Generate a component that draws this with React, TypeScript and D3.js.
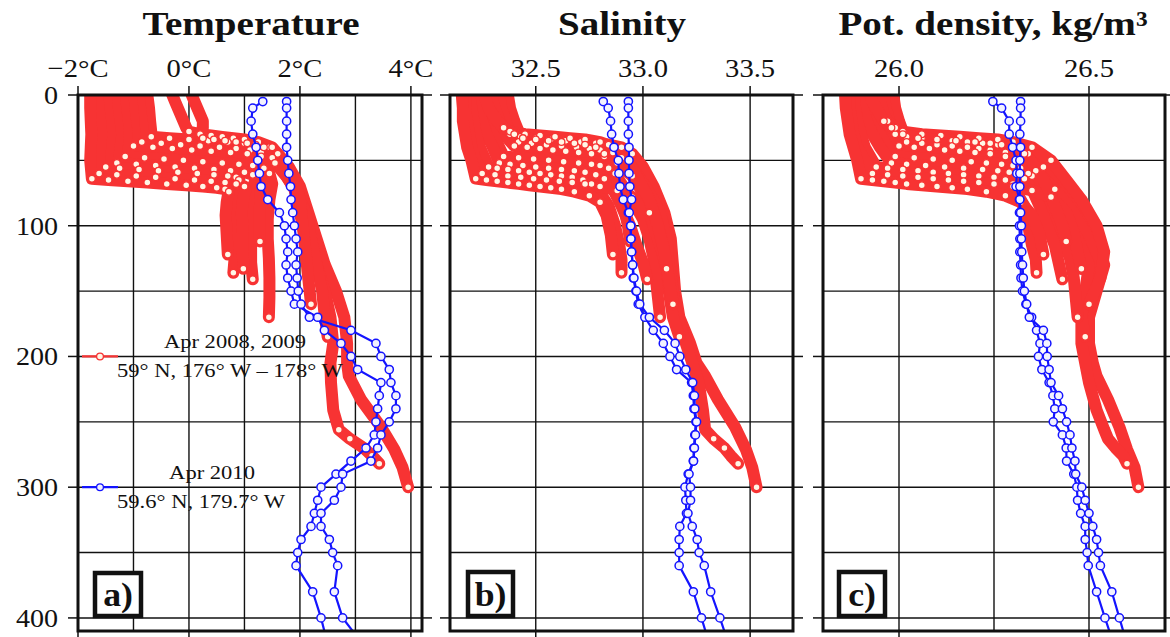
import React from "react";
import * as d3 from "d3";

// ---- April 2008 / 2009 casts (red): depth (m) per cast and the three measured profiles ----
const castDepths: number[][] = [
  [0, 10, 20, 28, 32, 33, 34, 35, 36, 37, 38, 40, 45, 55, 70, 90, 110, 130, 150, 170, 190, 205, 215, 233, 254, 271, 285, 300],
  [0, 10, 20, 30, 36, 37, 38, 39, 40, 41, 42, 44, 48, 58, 72, 90, 110, 130, 150, 170, 190, 205, 220, 241, 256, 263, 270, 276, 282],
  [0, 10, 20, 30, 39, 40, 41, 42, 43, 44, 45, 47, 52, 62, 75, 90, 110, 130, 150, 170, 185],
  [0, 10, 20, 30, 40, 47, 48, 49, 50, 51, 52, 53, 54, 56, 60, 68, 80, 95, 110, 125, 140, 155, 170],
  [0, 10, 20, 30, 40, 52, 53, 54, 55, 56, 57, 58, 59, 61, 64, 72, 85, 100, 115, 128, 141],
  [0, 10, 20, 30, 40, 55, 56, 57, 58, 59, 60, 61, 62, 63, 65, 68, 75, 85, 100, 115, 126, 136],
  [0, 10, 20, 30, 40, 50, 60, 61, 62, 63, 64, 65, 66, 67, 68, 70, 73, 78, 90, 105, 120, 133],
  [0, 10, 20, 30, 40, 50, 64, 65, 66, 67, 68, 69, 70, 71, 72, 74, 77, 82, 92, 107, 122],
  [0, 5, 10, 15, 20, 25, 28, 30, 31, 32, 33, 34, 36, 40, 50, 65, 80, 100, 120, 140, 160],
  [0, 5, 10, 15, 20, 25, 30, 33, 34, 35, 36, 37, 38, 40, 45, 55, 70, 85, 100, 112],
];

const castTemperature: number[][] = [
  [-0.75, -0.72, -0.7, -0.68, -0.68, -0.35, 0.0, 0.35, 0.7, 1.0, 1.25, 1.45, 1.6, 1.8, 2.0, 2.15, 2.3, 2.45, 2.65, 2.8, 2.85, 2.85, 2.88, 3.1, 3.46, 3.7, 3.85, 3.95],
  [-0.9, -0.88, -0.85, -0.82, -0.85, -0.5, -0.15, 0.2, 0.55, 0.85, 1.1, 1.3, 1.5, 1.7, 1.9, 2.0, 2.1, 2.3, 2.45, 2.55, 2.6, 2.55, 2.56, 2.6, 2.7, 2.9, 3.15, 3.3, 3.43],
  [-1.05, -1.02, -1.0, -0.98, -1.0, -0.65, -0.3, 0.05, 0.4, 0.75, 1.05, 1.3, 1.55, 1.75, 1.95, 2.1, 2.2, 2.3, 2.4, 2.45, 2.5],
  [-1.2, -1.18, -1.15, -1.12, -1.15, -1.15, -0.8, -0.45, -0.1, 0.25, 0.6, 0.9, 1.15, 1.35, 1.45, 1.5, 1.45, 1.42, 1.42, 1.44, 1.45, 1.45, 1.44],
  [-1.35, -1.33, -1.3, -1.28, -1.3, -1.3, -0.95, -0.6, -0.25, 0.1, 0.45, 0.75, 1.0, 1.15, 1.2, 1.15, 1.1, 1.1, 1.12, 1.12, 1.15],
  [-1.5, -1.48, -1.45, -1.42, -1.45, -1.5, -1.25, -0.9, -0.55, -0.2, 0.15, 0.45, 0.7, 0.85, 0.9, 0.85, 0.8, 0.78, 0.8, 0.82, 0.82, 0.8],
  [-1.65, -1.63, -1.6, -1.58, -1.6, -1.62, -1.62, -1.3, -0.95, -0.6, -0.25, 0.1, 0.4, 0.65, 0.85, 1.0, 1.02, 0.98, 0.95, 0.97, 0.97, 0.98],
  [-1.78, -1.78, -1.77, -1.76, -1.77, -1.78, -1.75, -1.45, -1.1, -0.75, -0.4, -0.05, 0.25, 0.5, 0.65, 0.72, 0.7, 0.68, 0.66, 0.68, 0.7],
  [-0.3, -0.25, -0.2, -0.15, -0.1, -0.05, 0.0, 0.2, 0.4, 0.6, 0.8, 1.0, 1.25, 1.5, 1.7, 1.9, 2.0, 2.05, 2.1, 2.15, 2.2],
  [0.05, 0.1, 0.15, 0.2, 0.25, 0.25, 0.2, 0.25, 0.45, 0.65, 0.85, 1.05, 1.2, 1.35, 1.4, 1.35, 1.3, 1.28, 1.28, 1.28],
];

const castSalinity: number[][] = [
  [32.37, 32.38, 32.4, 32.42, 32.43, 32.5, 32.57, 32.64, 32.71, 32.78, 32.84, 32.9, 32.95, 33.0, 33.05, 33.1, 33.13, 33.14, 33.15, 33.17, 33.22, 33.25, 33.29, 33.35, 33.43, 33.48, 33.51, 33.53],
  [32.33, 32.34, 32.36, 32.38, 32.42, 32.48, 32.55, 32.62, 32.69, 32.75, 32.8, 32.86, 32.9, 32.96, 33.02, 33.08, 33.11, 33.12, 33.14, 33.16, 33.2, 33.23, 33.26, 33.28, 33.29, 33.33, 33.38, 33.41, 33.444],
  [32.29, 32.3, 32.32, 32.35, 32.4, 32.46, 32.52, 32.58, 32.64, 32.7, 32.76, 32.82, 32.88, 32.95, 33.0, 33.04, 33.08, 33.1, 33.12, 33.14, 33.17],
  [32.25, 32.26, 32.28, 32.3, 32.33, 32.35, 32.42, 32.49, 32.56, 32.63, 32.7, 32.76, 32.8, 32.84, 32.87, 32.9, 32.95, 33.0, 33.03, 33.05, 33.06, 33.07, 33.08],
  [32.22, 32.23, 32.25, 32.27, 32.3, 32.33, 32.38, 32.44, 32.5, 32.56, 32.62, 32.68, 32.73, 32.78, 32.82, 32.86, 32.9, 32.94, 32.97, 33.0, 33.02],
  [32.19, 32.2, 32.21, 32.22, 32.24, 32.28, 32.32, 32.37, 32.42, 32.47, 32.52, 32.57, 32.62, 32.67, 32.72, 32.76, 32.8, 32.84, 32.87, 32.89, 32.9, 32.9],
  [32.17, 32.17, 32.18, 32.19, 32.2, 32.22, 32.25, 32.31, 32.37, 32.43, 32.49, 32.55, 32.61, 32.67, 32.73, 32.8, 32.88, 32.95, 33.03, 33.06, 33.09, 33.11],
  [32.155, 32.16, 32.16, 32.17, 32.18, 32.2, 32.22, 32.27, 32.32, 32.37, 32.42, 32.47, 32.52, 32.57, 32.62, 32.68, 32.75, 32.8, 32.83, 32.85, 32.86],
  [32.3, 32.3, 32.31, 32.32, 32.33, 32.35, 32.38, 32.45, 32.52, 32.59, 32.66, 32.73, 32.8, 32.87, 32.93, 32.98, 33.03, 33.07, 33.1, 33.12, 33.14],
  [32.26, 32.27, 32.28, 32.3, 32.32, 32.35, 32.4, 32.44, 32.5, 32.56, 32.62, 32.68, 32.73, 32.78, 32.82, 32.86, 32.89, 32.91, 32.93, 32.94],
];

const castDensity: number[][] = [
  [25.985, 25.99, 26.0, 26.01, 26.02, 26.06, 26.1, 26.14, 26.18, 26.22, 26.26, 26.3, 26.34, 26.38, 26.43, 26.48, 26.52, 26.54, 26.52, 26.5, 26.5, 26.51, 26.52, 26.55, 26.58, 26.6, 26.62, 26.63],
  [25.96, 25.965, 25.975, 25.99, 26.02, 26.06, 26.1, 26.14, 26.18, 26.21, 26.24, 26.28, 26.32, 26.36, 26.41, 26.46, 26.5, 26.52, 26.5, 26.48, 26.48, 26.49, 26.5, 26.52, 26.54, 26.55, 26.57, 26.59, 26.6],
  [25.94, 25.945, 25.955, 25.97, 26.0, 26.04, 26.08, 26.12, 26.16, 26.2, 26.24, 26.28, 26.31, 26.35, 26.39, 26.43, 26.47, 26.5, 26.49, 26.48, 26.49],
  [25.92, 25.925, 25.935, 25.95, 25.97, 25.99, 26.04, 26.09, 26.14, 26.19, 26.23, 26.27, 26.3, 26.32, 26.34, 26.36, 26.39, 26.41, 26.43, 26.45, 26.46, 26.465, 26.47],
  [25.9, 25.905, 25.915, 25.93, 25.95, 25.98, 26.02, 26.07, 26.12, 26.17, 26.22, 26.26, 26.29, 26.31, 26.33, 26.35, 26.37, 26.39, 26.41, 26.42, 26.43],
  [25.88, 25.885, 25.89, 25.9, 25.91, 25.94, 25.97, 26.01, 26.05, 26.09, 26.13, 26.17, 26.21, 26.25, 26.28, 26.3, 26.31, 26.33, 26.34, 26.35, 26.36, 26.362],
  [25.87, 25.87, 25.875, 25.88, 25.89, 25.91, 25.93, 25.97, 26.01, 26.05, 26.09, 26.13, 26.17, 26.21, 26.25, 26.3, 26.35, 26.4, 26.44, 26.46, 26.47, 26.48],
  [25.858, 25.86, 25.865, 25.87, 25.88, 25.89, 25.9, 25.93, 25.96, 25.99, 26.02, 26.06, 26.1, 26.14, 26.18, 26.23, 26.28, 26.32, 26.35, 26.37, 26.38],
  [25.95, 25.95, 25.955, 25.96, 25.97, 25.99, 26.01, 26.06, 26.11, 26.16, 26.21, 26.26, 26.3, 26.35, 26.4, 26.44, 26.48, 26.52, 26.54, 26.53, 26.5],
  [25.925, 25.93, 25.94, 25.95, 25.96, 25.98, 26.01, 26.05, 26.1, 26.15, 26.2, 26.24, 26.27, 26.3, 26.33, 26.36, 26.39, 26.41, 26.43, 26.44],
];

// ---- April 2010 station (blue): two casts on a common depth grid ----
const stationDepths = [5, 10, 20, 30, 40, 50, 60, 70, 80, 90, 100, 110, 120, 130, 140, 150, 160, 170, 180, 190, 200, 210, 220, 230, 240, 250, 260, 270, 280, 290, 300, 310, 320, 330, 340, 350, 360, 380, 400, 420];

const stationTemperature: number[][] = [
  [1.33, 1.15, 1.12, 1.15, 1.21, 1.24, 1.27, 1.3, 1.42, 1.63, 1.72, 1.75, 1.78, 1.75, 1.78, 1.84, 1.9, 2.32, 2.44, 2.74, 2.92, 3.04, 3.46, 3.43, 3.4, 3.37, 3.34, 3.19, 2.92, 2.65, 2.38, 2.32, 2.26, 2.2, 2.02, 1.96, 1.93, 2.23, 2.38, 2.5],
  [1.76, 1.76, 1.76, 1.76, 1.76, 1.78, 1.8, 1.83, 1.84, 1.87, 1.9, 1.93, 1.96, 1.93, 1.95, 1.97, 2.02, 2.17, 2.92, 3.37, 3.46, 3.61, 3.64, 3.73, 3.73, 3.61, 3.46, 3.4, 3.28, 2.77, 2.74, 2.62, 2.38, 2.38, 2.53, 2.59, 2.68, 2.62, 2.77, 3.13],
];

const stationSalinity: number[][] = [
  [32.815, 32.838, 32.849, 32.854, 32.865, 32.885, 32.888, 32.893, 32.908, 32.932, 32.943, 32.944, 32.947, 32.952, 32.955, 32.967, 32.978, 33.009, 33.048, 33.095, 33.126, 33.157, 33.227, 33.235, 33.238, 33.247, 33.242, 33.238, 33.235, 33.211, 33.196, 33.2, 33.203, 33.172, 33.169, 33.169, 33.169, 33.235, 33.273, 33.31],
  [32.932, 32.932, 32.932, 32.932, 32.935, 32.935, 32.935, 32.939, 32.947, 32.936, 32.943, 32.944, 32.947, 32.952, 32.958, 32.97, 32.985, 33.03, 33.1, 33.15, 33.172, 33.2, 33.232, 33.24, 33.242, 33.25, 33.245, 33.24, 33.236, 33.215, 33.222, 33.222, 33.21, 33.23, 33.253, 33.262, 33.286, 33.316, 33.359, 33.4],
];

const stationDensity: number[][] = [
  [26.247, 26.27, 26.29, 26.29, 26.299, 26.308, 26.31, 26.308, 26.317, 26.317, 26.317, 26.318, 26.318, 26.32, 26.321, 26.325, 26.334, 26.349, 26.362, 26.371, 26.367, 26.376, 26.395, 26.405, 26.41, 26.406, 26.43, 26.44, 26.441, 26.46, 26.468, 26.47, 26.478, 26.49, 26.49, 26.495, 26.498, 26.52, 26.542, 26.565],
  [26.32, 26.32, 26.32, 26.318, 26.32, 26.318, 26.318, 26.318, 26.318, 26.32, 26.322, 26.322, 26.323, 26.325, 26.327, 26.33, 26.336, 26.343, 26.38, 26.389, 26.39, 26.395, 26.4, 26.42, 26.43, 26.441, 26.45, 26.455, 26.463, 26.465, 26.481, 26.49, 26.5, 26.51, 26.52, 26.525, 26.53, 26.56, 26.58, 26.6],
];

// ---- axes ----
const depthTicks = [0, 100, 200, 300, 400];
const depthGrid = [50, 100, 150, 200, 250, 300, 350, 400];
const temperatureTicks = [-2, 0, 2, 4];
const temperatureGrid = [-1, 0, 1, 2, 3, 4];
const salinityTicks = [32.5, 33.0, 33.5];
const salinityGrid = [32.5, 33.0, 33.5];
const densityTicks = [26.0, 26.5];
const densityGrid = [26.0, 26.25, 26.5];

const legendLabels = [
  ["Apr 2008, 2009", "59\u00b0 N, 176\u00b0 W \u2013 178\u00b0 W"],
  ["Apr 2010", "59.6\u00b0 N, 179.7\u00b0 W"],
];

const RED = "#f73333";
const BLUE = "#1414ff";
const FONT = "Liberation Serif, Tinos, Times New Roman, DejaVu Serif, serif";

const TOP = 95;
const BOTTOM = 631;
const yDepth = d3.scaleLinear().domain([0, 410]).range([TOP, BOTTOM]);

type Panel = {
  id: string;
  title: string;
  titleX: number;
  x: d3.ScaleLinear<number, number>;
  ticks: number[];
  fmt: (v: number) => string;
  grid: number[];
  red: number[][];
  blue: number[][];
  label: string;
  box: [number, number, number, number];
  yLabels: boolean;
};

const panels: Panel[] = [
  {
    id: "a",
    title: "Temperature",
    titleX: 251,
    x: d3.scaleLinear().domain([-2, 4.2]).range([78, 422]),
    ticks: temperatureTicks,
    fmt: (v) => `${v < 0 ? "\u2212" + Math.abs(v) : v}\u00b0C`,
    grid: temperatureGrid,
    red: castTemperature,
    blue: stationTemperature,
    label: "a)",
    box: [95, 573, 46, 43],
    yLabels: true,
  },
  {
    id: "b",
    title: "Salinity",
    titleX: 622,
    x: d3.scaleLinear().domain([32.1, 33.7]).range([450, 793]),
    ticks: salinityTicks,
    fmt: (v) => v.toFixed(1),
    grid: salinityGrid,
    red: castSalinity,
    blue: stationSalinity,
    label: "b)",
    box: [468, 572, 45, 44],
    yLabels: false,
  },
  {
    id: "c",
    title: "Pot. density, kg/m\u00b3",
    titleX: 993,
    x: d3.scaleLinear().domain([25.8, 26.7]).range([823, 1165]),
    ticks: densityTicks,
    fmt: (v) => v.toFixed(1),
    grid: densityGrid,
    red: castDensity,
    blue: stationDensity,
    label: "c)",
    box: [839, 572, 46, 44],
    yLabels: false,
  },
];

function SText(props: {
  x: number;
  y: number;
  size: number;
  sx?: number;
  bold?: boolean;
  anchor?: "start" | "middle" | "end";
  children: React.ReactNode;
}) {
  const { x, y, size, sx = 1, bold, anchor = "start", children } = props;
  return (
    <text
      transform={`translate(${x},${y}) scale(${sx},1)`}
      textAnchor={anchor}
      fill="#111"
      style={{ fontFamily: FONT, fontSize: `${size}px`, fontWeight: bold ? 700 : 400 }}
    >
      {children}
    </text>
  );
}

const line = d3
  .line<[number, number]>()
  .x((d) => d[0])
  .y((d) => d[1]);

function PanelView({ p }: { p: Panel }) {
  const [x0, x1] = p.x.range();
  const redPts = p.red.map((vals, i) =>
    vals.map((v, j) => [p.x(v), yDepth(castDepths[i][j])] as [number, number])
  );
  const bluePts = p.blue.map((vals) =>
    vals.map((v, j) => [p.x(v), yDepth(stationDepths[j])] as [number, number])
  );
  // open markers show where a cast crosses the gradient (horizontal steps) and at its last sample
  const redMarks: [number, number][] = [];
  redPts.forEach((pts) => {
    pts.forEach((pt, j) => {
      const prev = pts[j - 1];
      const next = pts[j + 1];
      const flat = (a?: [number, number]) =>
        a ? Math.abs(a[0] - pt[0]) > Math.abs(a[1] - pt[1]) : false;
      if (flat(prev) || flat(next) || j === pts.length - 1) redMarks.push(pt);
    });
  });

  return (
    <g>
      <defs>
        <clipPath id={`clip-${p.id}`}>
          <rect x={x0} y={TOP} width={x1 - x0} height={BOTTOM - TOP} />
        </clipPath>
      </defs>
      {/* grid */}
      {p.grid.map((g) => (
        <line key={`vg${g}`} x1={p.x(g)} x2={p.x(g)} y1={TOP} y2={BOTTOM} stroke="#111" strokeWidth={1.4} />
      ))}
      {depthGrid.map((d) => (
        <line key={`hg${d}`} x1={x0} x2={x1} y1={yDepth(d)} y2={yDepth(d)} stroke="#111" strokeWidth={1.4} />
      ))}
      {/* data */}
      <g clipPath={`url(#clip-${p.id})`}>
        {redPts.map((pts, i) => (
          <path
            key={`r${i}`}
            d={line(pts) ?? ""}
            fill="none"
            stroke={RED}
            strokeWidth={12}
            strokeLinejoin="round"
            strokeLinecap="round"
          />
        ))}
        {redMarks.map((pt, i) => (
          <circle key={`rm${i}`} cx={pt[0]} cy={pt[1]} r={3.4} fill="#fff6e6" stroke={RED} strokeWidth={1.3} />
        ))}
        {bluePts.map((pts, i) => (
          <path key={`b${i}`} d={line(pts) ?? ""} fill="none" stroke={BLUE} strokeWidth={2.2} />
        ))}
        {bluePts.map((pts, i) =>
          pts.map((pt, j) => (
            <circle key={`bm${i}-${j}`} cx={pt[0]} cy={pt[1]} r={4.1} fill="#f2f2ff" stroke={BLUE} strokeWidth={1.5} />
          ))
        )}
      </g>
      {/* frame */}
      <rect x={x0} y={TOP} width={x1 - x0} height={BOTTOM - TOP} fill="none" stroke="#111" strokeWidth={3} />
      {/* ticks */}
      {p.ticks.map((t) => (
        <g key={`t${t}`}>
          <line x1={p.x(t)} x2={p.x(t)} y1={TOP - 9} y2={TOP} stroke="#111" strokeWidth={1.5} />
          <line x1={p.x(t)} x2={p.x(t)} y1={BOTTOM} y2={BOTTOM + 7} stroke="#111" strokeWidth={1.5} />
          <SText x={p.x(t)} y={77} size={26} sx={1.1} anchor="middle">
            {p.fmt(t)}
          </SText>
        </g>
      ))}
      {depthTicks.map((d) => (
        <g key={`dt${d}`}>
          <line x1={x0 - 10} x2={x0} y1={yDepth(d)} y2={yDepth(d)} stroke="#111" strokeWidth={1.5} />
          <line x1={x1} x2={x1 + 10} y1={yDepth(d)} y2={yDepth(d)} stroke="#111" strokeWidth={1.5} />
          {p.yLabels && (
            <SText x={58} y={yDepth(d) + 9} size={26} sx={1.08} anchor="end">
              {d}
            </SText>
          )}
        </g>
      ))}
      {/* title */}
      <SText x={p.titleX} y={35} size={34} sx={1.15} bold anchor="middle">
        {p.title}
      </SText>
      {/* panel letter */}
      <rect x={p.box[0]} y={p.box[1]} width={p.box[2]} height={p.box[3]} fill="#fff" stroke="#111" strokeWidth={4.5} />
      <SText x={p.box[0] + p.box[2] / 2} y={p.box[1] + p.box[3] - 10} size={34} sx={1.05} bold anchor="middle">
        {p.label}
      </SText>
    </g>
  );
}

function Legend() {
  const a = panels[0];
  const rows = [
    { color: RED, depth: 200, fill: "#fff6e6", labels: legendLabels[0], c1: 235, s2: 117 },
    { color: BLUE, depth: 300, fill: "#f2f2ff", labels: legendLabels[1], c1: 212, s2: 117 },
  ];
  const lx0 = a.x.range()[0] + 4;
  return (
    <g>
      {rows.map((r) => {
        const y = yDepth(r.depth);
        return (
          <g key={r.depth}>
            <line x1={lx0} x2={lx0 + 36} y1={y} y2={y} stroke={r.color} strokeWidth={2.2} />
            <circle cx={lx0 + 18} cy={y} r={3.4} fill={r.fill} stroke={r.color} strokeWidth={1.3} />
            <SText x={r.c1} y={y - 8} size={18.5} sx={1.22} anchor="middle">
              {r.labels[0]}
            </SText>
            <SText x={r.s2} y={y + 21} size={18.5} sx={1.22} anchor="start">
              {r.labels[1]}
            </SText>
          </g>
        );
      })}
    </g>
  );
}

export default function App() {
  return (
    <svg
      width={1170}
      height={637}
      viewBox="0 0 1170 637"
      style={{ position: "absolute", left: 0, top: 0, background: "#fff" }}
    >
      <rect x={0} y={0} width={1170} height={637} fill="#fff" />
      {panels.map((p) => (
        <PanelView key={p.id} p={p} />
      ))}
      <Legend />
    </svg>
  );
}
